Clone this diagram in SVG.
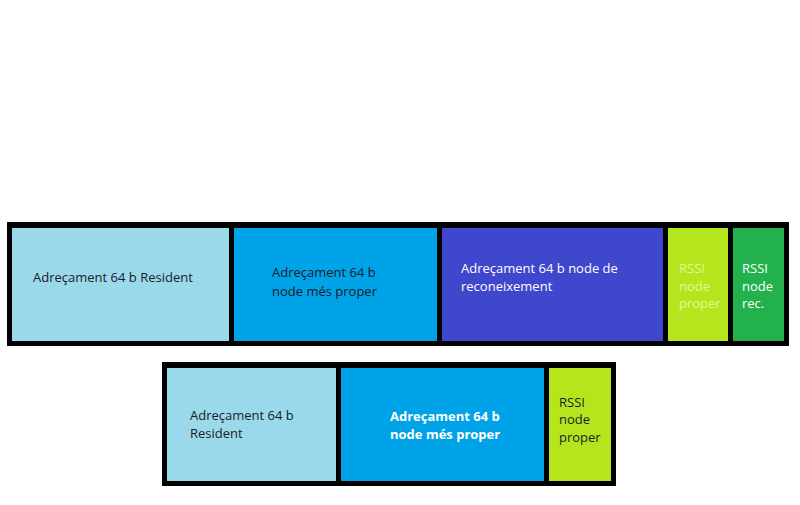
<svg xmlns="http://www.w3.org/2000/svg" width="800" height="505" viewBox="0 0 800 505">
<style>
text{font-family:"Open Sans","Liberation Sans",sans-serif;font-size:13px}
.dk{fill:#1b1b2a}
.wh{fill:#ffffff}
.pale{fill:#e6f59a}
.b{font-weight:bold}
.frame{fill:#000000}
</style>
<rect width="800" height="505" fill="#ffffff"/>
<g id="frame-top"><rect class="frame" x="7" y="222" width="782" height="124"/></g>
<g id="node-resident-top">
<rect x="12" y="228" width="217" height="113" fill="#99d9ea"/>
<text class="dk" x="33" y="282">Adreçament 64 b Resident</text>
</g>
<g id="node-proper-top">
<rect x="234" y="228" width="203" height="113" fill="#00a2e8"/>
<text class="dk" x="272" y="277">Adreçament 64 b</text>
<text class="dk" x="272" y="296">node més proper</text>
</g>
<g id="node-reconeixement">
<rect x="442" y="228" width="221" height="113" fill="#3f48cc"/>
<text class="wh" x="461" y="273">Adreçament 64 b node de</text>
<text class="wh" x="461" y="291">reconeixement</text>
</g>
<g id="node-rssi-proper-top">
<rect x="668" y="228" width="60" height="113" fill="#b5e61d"/>
<text class="pale" x="679" y="273">RSSI</text>
<text class="pale" x="679" y="291">node</text>
<text class="pale" x="679" y="308">proper</text>
</g>
<g id="node-rssi-rec">
<rect x="733" y="228" width="51" height="113" fill="#22b14c"/>
<text class="wh" x="742" y="273">RSSI</text>
<text class="wh" x="742" y="291">node</text>
<text class="wh" x="742" y="308">rec.</text>
</g>
<g id="frame-bottom"><rect class="frame" x="162" y="362" width="454" height="124"/></g>
<g id="node-resident-bottom">
<rect x="167" y="368" width="169" height="113" fill="#99d9ea"/>
<text class="dk" x="190" y="420">Adreçament 64 b</text>
<text class="dk" x="190" y="438">Resident</text>
</g>
<g id="node-proper-bottom">
<rect x="341" y="368" width="203" height="113" fill="#00a2e8"/>
<text class="wh b" x="390" y="421">Adreçament 64 b</text>
<text class="wh b" x="390" y="439">node més proper</text>
</g>
<g id="node-rssi-proper-bottom">
<rect x="549" y="368" width="62" height="113" fill="#b5e61d"/>
<text class="dk" x="559" y="407">RSSI</text>
<text class="dk" x="559" y="424">node</text>
<text class="dk" x="559" y="442">proper</text>
</g>
<g id="connectors"></g>
</svg>
